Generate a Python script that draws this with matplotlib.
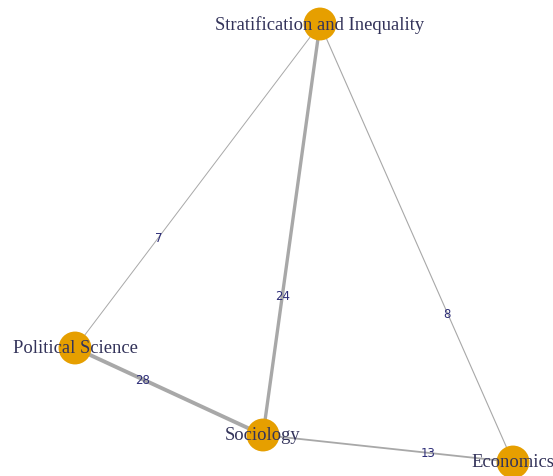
import matplotlib.pyplot as plt

# node layout (pixel-like coords, y down)
nodes = ['Stratification and Inequality', 'Political Science', 'Sociology', 'Economics']
node_x = [320, 75, 263, 513]
node_y = [25, 349, 436, 463]

# edges: (from, to, weight)
edge_from = [0, 0, 0, 1, 2]
edge_to = [1, 2, 3, 2, 3]
weights = [7, 24, 8, 28, 13]

fig = plt.figure(figsize=(5.53, 4.77), dpi=100)
ax = fig.add_axes([0, 0, 1, 1])
ax.set_xlim(0, 553)
ax.set_ylim(477, 0)
ax.axis('off')

for a, b, w in zip(edge_from, edge_to, weights):
    x0, y0 = node_x[a], node_y[a]
    x1, y1 = node_x[b], node_y[b]
    ax.plot([x0, x1], [y0, y1], color='#a8a8a8', lw=w / 10, zorder=1,
            solid_capstyle='butt')
    # igraph-ish label spot, a bit past the middle
    t = 0.66 if a == 0 or b == 3 else 0.36
    lx = x0 + (x1 - x0) * t
    ly = y0 + (y1 - y0) * t
    ax.text(lx, ly, str(w), fontsize=8.5, color='#2e2e78', ha='center', va='center',
            family='DejaVu Sans', zorder=2)

ax.scatter(node_x, node_y, s=560, color='#e69f00', edgecolors='none', zorder=3)

for name, x, y in zip(nodes, node_x, node_y):
    ax.text(x, y, name, fontsize=13.4, color='#33335a', ha='center', va='center',
            family='Liberation Serif', zorder=4)

fig.savefig('out.png', dpi=100)
